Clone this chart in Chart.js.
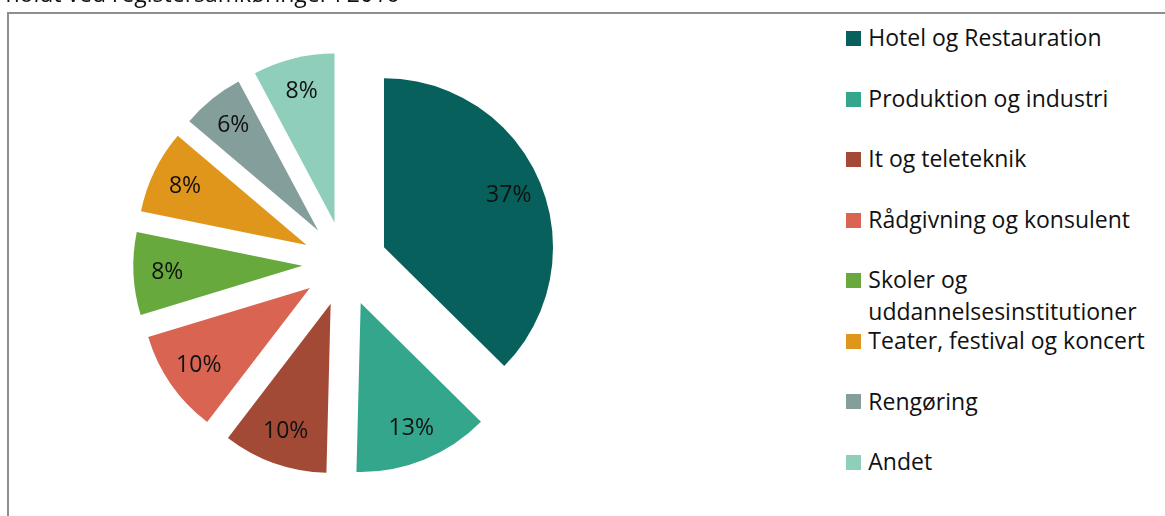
<!DOCTYPE html>
<html><head><meta charset="utf-8">
<script src="https://cdn.jsdelivr.net/npm/chart.js@4.4.0/dist/chart.umd.min.js"></script>
<style>
html,body{margin:0;padding:0;background:#fff;overflow:hidden;width:1165px;height:516px;position:relative;}
#frame{position:absolute;left:7px;top:12px;width:1200px;height:600px;border-left:2px solid #8e8e8e;border-top:2px solid #8e8e8e;}
#c{position:absolute;left:0;top:-18px;}
#legend{position:absolute;left:846px;top:0;font-family:'Open Sans',sans-serif;font-size:23px;color:#111;}
.li{position:absolute;left:0;width:319px;}
.box{position:absolute;left:0;width:15px;height:15px;}
.txt{position:absolute;left:22.3px;width:296px;line-height:32px;white-space:normal;}
</style></head><body>
<div id="frame"></div>
<canvas id="c" width="700" height="540"></canvas>
<div id="legend"></div>
<script>
const titleText = 'holdt ved registersamkøringer i 2016';
const categories = ['Hotel og Restauration','Produktion og industri','It og teleteknik','Rådgivning og konsulent','Skoler og uddannelsesinstitutioner','Teater, festival og koncert','Rengøring','Andet'];
const shares = [37.4, 13.0, 10.0, 9.9, 7.9, 8.0, 6.0, 7.8];
const colors = ['#07605B','#33A68B','#A34A37','#DA6452','#67A93C','#DF961A','#849E9C','#8ECEBA'];
const EXPLODE = 42.5;   // pixel distance every slice is pulled out from the centre
const FONT = "23px 'Open Sans'";

// Arc element that is pulled straight out along its bisector (Excel-style explosion, radius unchanged)
class ExplodedArc extends Chart.ArcElement {
  static id = 'explodedArc';
  static defaults = Object.assign({}, Chart.ArcElement.defaults);
  static defaultRoutes = Chart.ArcElement.defaultRoutes;
  draw(ctx) {
    const {x, y, startAngle, endAngle, outerRadius, options} = this;
    if (!(endAngle > startAngle) || outerRadius <= 0) return;
    const half = (startAngle + endAngle) / 2;
    const t = options.offset || 0;
    ctx.save();
    ctx.translate(Math.cos(half) * t, Math.sin(half) * t);
    ctx.beginPath();
    ctx.moveTo(x, y);
    ctx.arc(x, y, outerRadius, startAngle, endAngle);
    ctx.closePath();
    ctx.fillStyle = options.backgroundColor;
    ctx.fill();
    ctx.restore();
  }
}
class ExplodedPieController extends Chart.PieController {
  static id = 'explodedPie';
  static defaults = {dataElementType: 'explodedArc'};
}
Chart.register(ExplodedArc, ExplodedPieController);

const sliceLabels = {
  id:'sliceLabels',
  afterDatasetsDraw(chart){
    const meta = chart.getDatasetMeta(0);
    const vals = chart.data.datasets[0].data;
    const total = vals.reduce((a,b)=>a+b,0);
    const ctx = chart.ctx;
    ctx.save();
    ctx.font = FONT;
    ctx.fillStyle = '#111';
    ctx.textAlign = 'center';
    ctx.textBaseline = 'middle';
    meta.data.forEach((arc,i)=>{
      const p = arc.getProps(['x','y','startAngle','endAngle','outerRadius'], true);
      const mid = (p.startAngle + p.endAngle)/2;
      const d = (arc.options.offset || 0) + 0.8*p.outerRadius;
      ctx.fillText(Math.round(vals[i]/total*100)+'%', p.x + Math.cos(mid)*d, p.y + Math.sin(mid)*d);
    });
    ctx.restore();
  }
};

const htmlLegend = {
  id:'htmlLegend',
  afterUpdate(chart){
    const el = document.getElementById('legend');
    el.innerHTML = '';
    let items;
    const gen = chart.options.plugins.legend.labels.generateLabels;
    if (typeof gen === 'function') items = gen(chart);
    else items = chart.data.labels.map((l,i)=>({text:l, fillStyle:chart.data.datasets[0].backgroundColor[i]}));
    items.forEach((it,i)=>{
      const row = document.createElement('div');
      row.className = 'li';
      row.style.top = (21.2 + i*60.57) + 'px';
      const b = document.createElement('div');
      b.className = 'box';
      b.style.top = '9.8px';
      b.style.background = it.fillStyle;
      const t = document.createElement('div');
      t.className = 'txt';
      t.textContent = it.text;
      row.append(b,t);
      el.append(row);
    });
  }
};

new Chart(document.getElementById('c'), {
  type:'explodedPie',
  data:{
    labels:categories,
    datasets:[{data:shares, backgroundColor:colors, borderWidth:0, offset:EXPLODE, hoverOffset:0, radius:169}]
  },
  options:{
    responsive:false,
    animation:false,
    radius:169,
    layout:{padding:{left:5.5,right:15.9,top:0,bottom:4.2}},
    plugins:{
      legend:{display:false},
      tooltip:{enabled:false},
      title:{display:true,text:titleText,align:'start',color:'#111',
        font:{family:'Open Sans',size:23,weight:'normal',lineHeight:1.2},padding:{top:0,bottom:0}}
    }
  },
  plugins:[sliceLabels, htmlLegend]
});
</script>
</body></html>
